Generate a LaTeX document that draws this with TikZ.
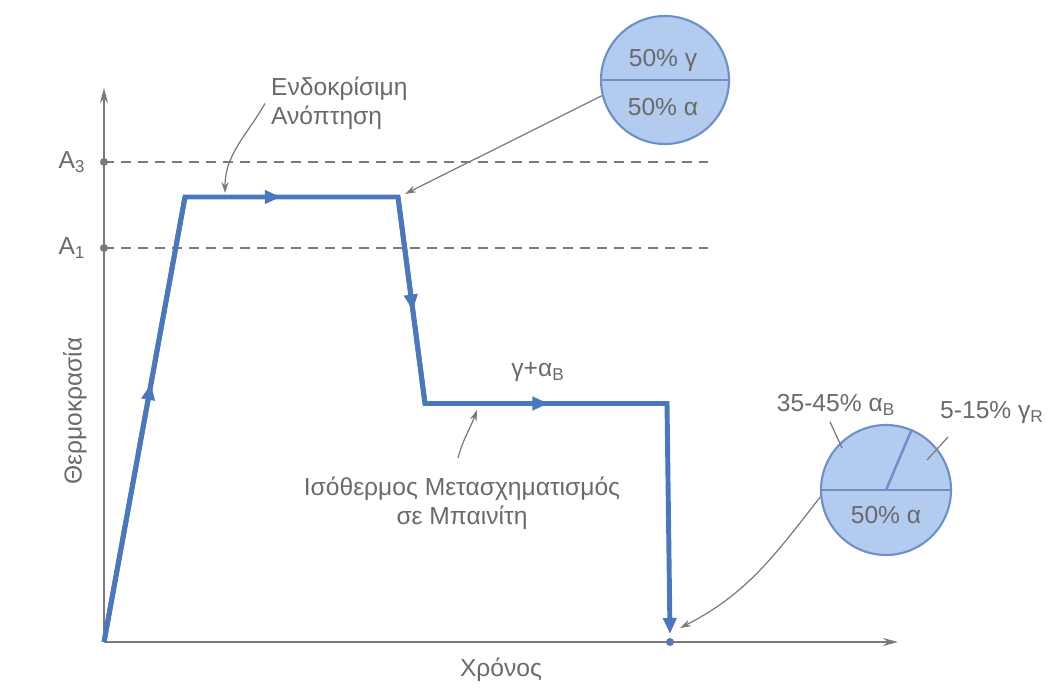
\documentclass[tikz,border=0pt]{standalone}
\usepackage{fontspec}
\setmainfont{Liberation Sans}
\usetikzlibrary{arrows.meta,decorations.markings}

\definecolor{pathblue}{HTML}{4A78BE}
\definecolor{phasefill}{HTML}{B3CBEE}
\definecolor{phaseedge}{HTML}{6E90C8}
\definecolor{axisgray}{HTML}{7A7A7A}
\definecolor{textgray}{HTML}{6A6A6A}

\tikzset{
  treatline/.style={line width=2.8pt, draw=pathblue, line join=miter},
  midarrow/.style={postaction={decorate}, decoration={markings,
      mark=at position #1 with {\arrow[pathblue]{Triangle[length=0.32cm,width=0.26cm]}}}},
  axisline/.style={line width=1pt, draw=axisgray, -{Stealth[length=0.3cm,width=0.16cm]}},
  critline/.style={line width=1pt, draw=axisgray, dash pattern=on 0.2cm off 0.14cm},
  leader/.style={line width=0.7pt, draw=axisgray, -{Stealth[length=0.22cm,width=0.14cm]}},
  tick/.style={line width=0.7pt, draw=axisgray},
  phasedisk/.style={circle, draw=phaseedge, fill=phasefill, line width=1.2pt, inner sep=0pt, minimum size=#1},
  divider/.style={draw=phaseedge, line width=1.4pt},
  lbl/.style={text=textgray, font=\fontsize{14}{16.5}\selectfont},
}

\begin{document}
\begin{tikzpicture}
    \useasboundingbox (0,0) rectangle (20.94,13.74);

    % Axes
    \coordinate (O) at (2.08,0.90);
    \coordinate (ytip) at (2.08,11.98);
    \coordinate (xtip) at (17.96,0.90);
    \draw[axisline] (O) -- (ytip);
    \draw[axisline] (O) -- (xtip);
    \node[lbl, rotate=90] (temp) at (1.50,5.52) {Θερμοκρασία};
    \node[lbl] (time) at (10.02,0.34) {Χρόνος};

    % Critical temperatures
    \coordinate (A3) at (2.08,10.50);
    \coordinate (A1) at (2.08,8.78);
    \coordinate (A3end) at (14.16,10.50);
    \coordinate (A1end) at (14.16,8.78);
    \draw[critline] (A3) -- (A3end);
    \draw[critline] (A1) -- (A1end);
    \fill[axisgray] (A3) circle (0.08);
    \fill[axisgray] (A1) circle (0.08);
    \node[lbl] (A3lbl) at (1.44,10.50) {A\textsubscript{3}};
    \node[lbl] (A1lbl) at (1.44,8.78) {A\textsubscript{1}};

    % Heat treatment path
    \coordinate (P1) at (3.70,9.80);
    \coordinate (P2) at (7.96,9.80);
    \coordinate (P3) at (8.50,5.67);
    \coordinate (P4) at (13.34,5.67);
    \coordinate (P5) at (13.40,1.06);
    \coordinate (end) at (13.40,0.90);
    \draw[treatline, -{Triangle[length=0.32cm,width=0.26cm]}] (O) -- (P1) -- (P2) -- (P3) -- (P4) -- (P5);
    \draw[treatline, midarrow=0.58] (O) -- (P1);
    \draw[treatline, midarrow=0.45] (P1) -- (P2);
    \draw[treatline, midarrow=0.55] (P2) -- (P3);
    \draw[treatline, midarrow=0.51] (P3) -- (P4);
    \fill[pathblue!80!gray] (end) circle (0.08);
    \node[lbl] (mixlbl) at (10.76,6.30) {γ+α\textsubscript{B}};

    % Austenitizing note
    \node[lbl, align=left, anchor=west] (anneal) at (5.30,11.67) {Ενδοκρίσιμη\\Ανόπτηση};
    \coordinate (P1in) at (4.50,9.88);
    \draw[leader] (anneal.west) to[out=240, in=90] (P1in);

    % Bainite note
    \node[lbl, align=center] (iso) at (9.24,3.67) {Ισόθερμος Μετασχηματισμός\\σε Μπαινίτη};
    \coordinate (isoout) at (9.16,4.58);
    \coordinate (P3in) at (9.54,5.54);
    \draw[leader] (isoout) to[out=75, in=250] (P3in);

    % Phases after annealing
    \node[phasedisk=2.56cm] (mixA) at (13.30,12.14) {};
    \draw[divider] (mixA.west) -- (mixA.east);
    \node[lbl] (gA) at (13.26,12.54) {50\% γ};
    \node[lbl] (aA) at (13.26,11.60) {50\% α};
    \coordinate (P2in) at (8.10,9.86);
    \draw[leader] (mixA.194) -- (P2in);

    % Phases at the end
    \node[phasedisk=2.60cm] (mixB) at (17.72,3.94) {};
    \draw[divider] (mixB.west) -- (mixB.east);
    \draw[divider] (mixB.center) -- (mixB.67);
    \node[lbl] (aB) at (17.72,3.44) {50\% α};
    \node[lbl] (bainite) at (16.72,5.64) {35-45\% α\textsubscript{B}};
    \node[lbl] (retained) at (19.84,5.48) {5-15\% γ\textsubscript{R}};
    \coordinate (bIn) at (16.84,4.78);
    \coordinate (rOut) at (18.96,5.00);
    \coordinate (rIn) at (18.54,4.54);
    \draw[tick] (bainite.250) -- (bIn);
    \draw[tick] (rOut) -- (rIn);
    \coordinate (endin) at (13.60,1.18);
    \draw[leader] (mixB.186) to[out=232, in=27] (endin);
\end{tikzpicture}
\end{document}
